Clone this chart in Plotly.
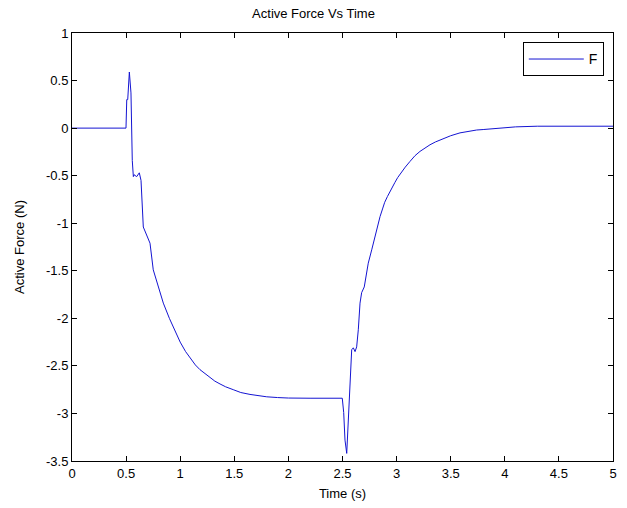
import plotly.graph_objects as go

t = [0, 0.499, 0.506, 0.515, 0.53, 0.545, 0.557, 0.567, 0.573, 0.598, 0.622, 0.638,
     0.659, 0.69, 0.721, 0.751, 0.798, 0.844, 0.9, 0.95, 1.0, 1.05, 1.1, 1.14, 1.183, 1.23,
     1.275, 1.32, 1.368, 1.42, 1.49, 1.56, 1.645, 1.72, 1.8, 1.9, 2.0, 2.2, 2.498, 2.511,
     2.523, 2.539, 2.554, 2.569, 2.585, 2.60, 2.616, 2.631, 2.646, 2.662, 2.677, 2.701,
     2.724, 2.738, 2.77, 2.80, 2.82, 2.847, 2.87, 2.89, 2.915, 2.94, 2.96, 2.985, 3.01,
     3.047, 3.08, 3.124, 3.17, 3.216, 3.26, 3.309, 3.36, 3.43, 3.5, 3.586, 3.66, 3.74,
     3.8, 3.863, 3.93, 4.0, 4.1, 4.3, 5.0]
F = [0, 0, 0.3, 0.3, 0.59, 0.37, -0.34, -0.51, -0.49, -0.51, -0.47, -0.55,
     -1.04, -1.12, -1.21, -1.49, -1.67, -1.84, -2.0, -2.13, -2.25, -2.35, -2.43, -2.49, -2.54, -2.58,
     -2.62, -2.66, -2.69, -2.72, -2.75, -2.78, -2.80, -2.815, -2.825, -2.833, -2.838, -2.84, -2.84, -2.99,
     -3.28, -3.42, -3.07, -2.68, -2.33, -2.31, -2.35, -2.30, -2.12, -1.84, -1.73, -1.67,
     -1.52, -1.42, -1.28, -1.14, -1.05, -0.93, -0.85, -0.78, -0.72, -0.66, -0.62, -0.57, -0.52,
     -0.46, -0.41, -0.35, -0.29, -0.245, -0.21, -0.175, -0.145, -0.11, -0.08, -0.05, -0.035, -0.02,
     -0.015, -0.008, 0.0, 0.007, 0.013, 0.02, 0.02]

x_ticks = [0, 0.5, 1, 1.5, 2, 2.5, 3, 3.5, 4, 4.5, 5]
y_ticks = [1, 0.5, 0, -0.5, -1, -1.5, -2, -2.5, -3, -3.5]

font = "Arial, Liberation Sans, sans-serif"

fig = go.Figure()
fig.add_trace(go.Scatter(x=t, y=F, mode="lines", name="F",
                         line=dict(color="#1414d2", width=1)))

axis_common = dict(showline=True, linecolor="black", linewidth=1, mirror="allticks",
                   ticks="inside", ticklen=5, tickcolor="black", showgrid=False,
                   zeroline=False, automargin=False,
                   tickfont=dict(family=font, size=13, color="black"))

fig.update_layout(
    width=627, height=508,
    margin=dict(l=72, r=14, t=33, b=47),
    paper_bgcolor="white", plot_bgcolor="white",
    title=dict(text="Active Force Vs Time", x=0.5, xanchor="center", y=0.983, yanchor="top",
               font=dict(family=font, size=13, color="black")),
    xaxis=dict(range=[0, 5], tickvals=x_ticks, ticktext=[str(v) for v in x_ticks],
               title=dict(text="Time (s)", font=dict(family=font, size=13, color="black"), standoff=9),
               **axis_common),
    yaxis=dict(range=[-3.5, 1], tickvals=y_ticks, ticktext=[str(v) for v in y_ticks],
               title=dict(text="Active Force (N)", font=dict(family=font, size=13, color="black"), standoff=18),
               **axis_common),
    showlegend=True,
    legend=dict(x=0.983, y=0.978, xanchor="right", yanchor="top",
                bordercolor="black", borderwidth=1, bgcolor="white",
                itemwidth=55,
                font=dict(family=font, size=14, color="black")),
)

fig.write_html("out.html")
